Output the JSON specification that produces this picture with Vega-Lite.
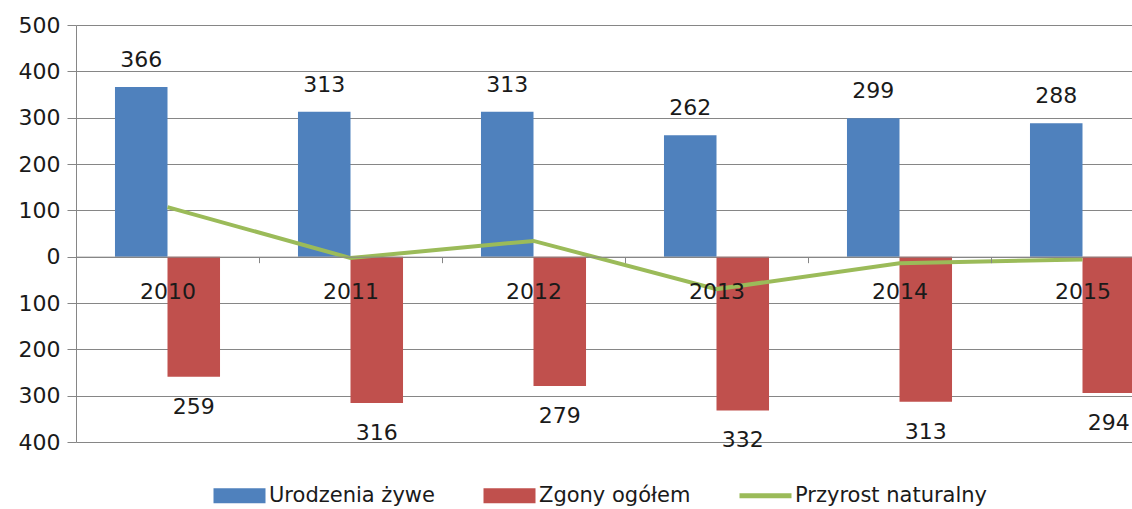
{
  "$schema": "https://vega.github.io/schema/vega-lite/v6.json",
  "width": 1056,
  "height": 417,
  "autosize": {"type": "none"},
  "padding": {"left": 76, "top": 25, "right": 0, "bottom": 67},
  "background": "white",
  "config": {
    "view": {"stroke": null},
    "font": "DejaVu Sans",
    "axis": {"labelFont": "DejaVu Sans", "labelFontSize": 22, "labelColor": "#1a1a1a", "domainColor": "#868686", "tickColor": "#868686", "gridColor": "#868686", "title": null},
    "legend": {"orient": "none", "legendX": 153, "legendY": 460, "direction": "horizontal", "title": null, "padding": 0, "labelFont": "DejaVu Sans", "labelFontSize": 21, "labelColor": "#1a1a1a", "symbolSize": 400, "symbolStrokeWidth": 0, "labelOffset": 19, "columnPadding": 48, "symbolOpacity": 1, "labelLimit": 400}
  },
  "data": {
    "values": [
      {"year": "2010", "series": "Urodzenia żywe", "value": 366},
      {"year": "2011", "series": "Urodzenia żywe", "value": 313},
      {"year": "2012", "series": "Urodzenia żywe", "value": 313},
      {"year": "2013", "series": "Urodzenia żywe", "value": 262},
      {"year": "2014", "series": "Urodzenia żywe", "value": 299},
      {"year": "2015", "series": "Urodzenia żywe", "value": 288},
      {"year": "2010", "series": "Zgony ogółem", "value": -259},
      {"year": "2011", "series": "Zgony ogółem", "value": -316},
      {"year": "2012", "series": "Zgony ogółem", "value": -279},
      {"year": "2013", "series": "Zgony ogółem", "value": -332},
      {"year": "2014", "series": "Zgony ogółem", "value": -313},
      {"year": "2015", "series": "Zgony ogółem", "value": -294},
      {"year": "2010", "series": "Przyrost naturalny", "value": 107},
      {"year": "2011", "series": "Przyrost naturalny", "value": -3},
      {"year": "2012", "series": "Przyrost naturalny", "value": 34},
      {"year": "2013", "series": "Przyrost naturalny", "value": -70},
      {"year": "2014", "series": "Przyrost naturalny", "value": -14},
      {"year": "2015", "series": "Przyrost naturalny", "value": -6}
    ]
  },
  "encoding": {
    "x": {
      "field": "year", "type": "nominal",
      "scale": {"range": [0, 1098], "paddingInner": 0.426, "paddingOuter": 0.213},
      "axis": {"orient": "bottom", "offset": -185.33, "labelAngle": 0, "tickOffset": -91.5, "labelOffset": 91.5, "tickSize": 6, "labelPadding": 19, "grid": false, "labelBaseline": "top", "zindex": 1}
    },
    "y": {
      "field": "value", "type": "quantitative",
      "scale": {"domain": [-400, 500], "nice": false, "zero": false},
      "axis": {"values": [-400, -300, -200, -100, 0, 100, 200, 300, 400, 500], "labelExpr": "abs(datum.value)", "tickSize": 9, "labelPadding": 7, "grid": true, "zindex": 0}
    }
  },
  "layer": [
    {
      "transform": [{"filter": "datum.series !== 'Przyrost naturalny'"}],
      "mark": {"type": "bar"},
      "encoding": {
        "xOffset": {"field": "series", "type": "nominal", "scale": {"domain": ["Urodzenia żywe", "Zgony ogółem"], "paddingInner": 0, "paddingOuter": 0}},
        "color": {"field": "series", "type": "nominal", "scale": {"domain": ["Urodzenia żywe", "Zgony ogółem", "Przyrost naturalny"], "range": ["#4F81BD", "#C0504D", "#9BBB59"]}}
      }
    },
    {
      "transform": [{"filter": "datum.series === 'Przyrost naturalny'"}],
      "mark": {"type": "line", "strokeWidth": 4},
      "encoding": {
        "color": {"field": "series", "type": "nominal"}
      }
    },
    {
      "transform": [{"filter": "datum.series === 'Urodzenia żywe'"}],
      "mark": {"type": "text", "fontSize": 22, "font": "DejaVu Sans", "color": "#1a1a1a", "dy": -27, "baseline": "middle", "text": {"expr": "abs(datum.value)"}},
      "encoding": {
        "xOffset": {"field": "series", "type": "nominal"}
      }
    },
    {
      "transform": [{"filter": "datum.series === 'Zgony ogółem'"}],
      "mark": {"type": "text", "fontSize": 22, "font": "DejaVu Sans", "color": "#1a1a1a", "dy": 30, "baseline": "middle", "text": {"expr": "abs(datum.value)"}},
      "encoding": {
        "xOffset": {"field": "series", "type": "nominal"}
      }
    },
    {
      "mark": {"type": "point", "filled": true, "opacity": 0},
      "encoding": {
        "color": {"field": "series", "type": "nominal"},
        "shape": {
          "field": "series", "type": "nominal",
          "scale": {"domain": ["Urodzenia żywe", "Zgony ogółem", "Przyrost naturalny"], "range": ["M-2.6,-0.75H2.6V0.75H-2.6Z", "M-2.6,-0.75H2.6V0.75H-2.6Z", "M-2.6,-0.25H2.6V0.25H-2.6Z"]}
        }
      }
    }
  ]
}
